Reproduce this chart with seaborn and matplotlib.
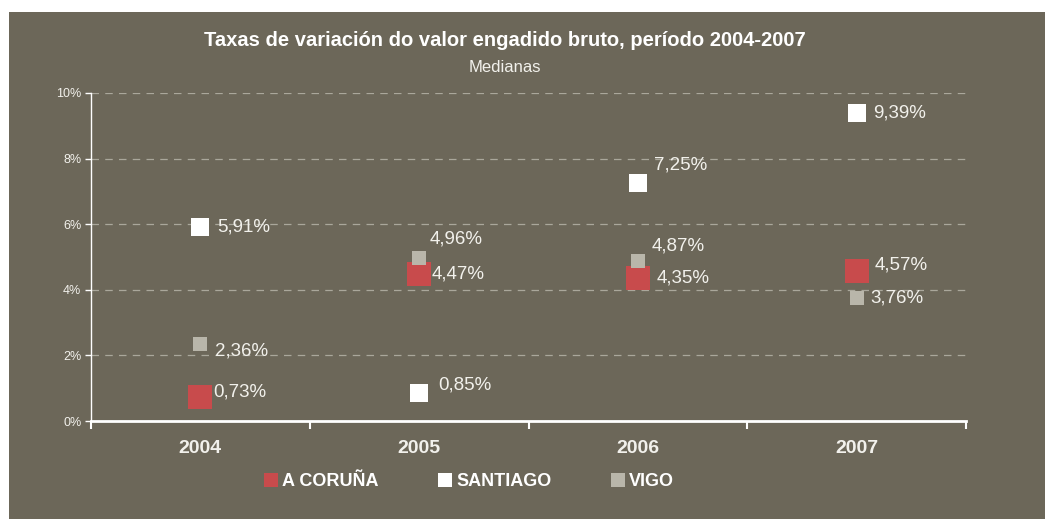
import numpy as np
import pandas as pd
import seaborn as sns
import matplotlib.pyplot as plt
from matplotlib.patches import Rectangle
from matplotlib.lines import Line2D
from matplotlib.ticker import FixedLocator

# datos
anos = ['2004', '2005', '2006', '2007']
cidades = ['A CORUÑA', 'SANTIAGO', 'VIGO']
coruna = [0.73, 4.47, 4.35, 4.57]
santiago = [5.91, 0.85, 7.25, 9.39]
vigo = [2.36, 4.96, 4.87, 3.76]

# desprazamento das etiquetas (px) por serie e ano
off_coruna = [(13, 5), (12, 0), (19, 0), (18, 6)]
off_santiago = [(17, 0), (19, 8), (16, 18), (17, 0)]
off_vigo = [(15, -7), (10, 19), (14, 15), (14, 0)]

cores = {'A CORUÑA': '#c84b4c', 'SANTIAGO': '#ffffff', 'VIGO': '#b9b6aa'}
tamanos = {'A CORUÑA': 300, 'SANTIAGO': 165, 'VIGO': 100}
fondo = '#6c6759'
texto = '#f2f1ec'

df = pd.DataFrame({
    'ano': anos * 3,
    'cidade': np.repeat(cidades, 4),
    'valor': coruna + santiago + vigo,
})

plt.rcParams['font.family'] = ['Liberation Sans', 'DejaVu Sans']

fig = plt.figure(figsize=(10.45, 5.19), dpi=100, facecolor='white')
fig.patches.append(Rectangle((9 / 1045, 0), 1, 1 - 12 / 519, transform=fig.transFigure,
                             facecolor=fondo, edgecolor='none', zorder=-10))
ax = fig.add_axes([91 / 1045, 1 - 421 / 519, 875 / 1045, 328 / 519])
ax.set_facecolor(fondo)

sns.scatterplot(data=df, x='ano', y='valor', hue='cidade', size='cidade', sizes=tamanos,
                palette=cores, marker='s', linewidth=0, legend=False, ax=ax, zorder=3)

offs = {'A CORUÑA': off_coruna, 'SANTIAGO': off_santiago, 'VIGO': off_vigo}
vals = {'A CORUÑA': coruna, 'SANTIAGO': santiago, 'VIGO': vigo}
for c in cidades:
    for i, v in enumerate(vals[c]):
        dx, dy = offs[c][i]
        ax.annotate(f'{v:.2f}%'.replace('.', ','), (i, v), xytext=(dx * 0.72, dy * 0.72),
                    textcoords='offset points', ha='left', va='center',
                    fontsize=13.5, color=texto, zorder=4)

ax.set_xlim(-0.5, 3.5)
ax.set_ylim(0, 10)
ax.set_yticks(np.arange(0, 11, 2))
ax.set_yticklabels([f'{t}%' for t in range(0, 11, 2)], fontsize=9, color=texto)
ax.yaxis.grid(True, color='#aaa79b', linestyle=(0, (6, 5)), linewidth=0.9)
ax.set_axisbelow(True)

ax.set_xticks(range(4))
ax.set_xticklabels(anos, fontsize=14, fontweight='bold', color=texto)
ax.tick_params(axis='x', which='major', length=0, pad=14)
ax.xaxis.set_minor_locator(FixedLocator([-0.5, 0.5, 1.5, 2.5, 3.5]))
ax.tick_params(axis='x', which='minor', length=6, width=1.5, color='white', direction='out')
ax.tick_params(axis='y', length=4, width=1, color='white', pad=3)
ax.set_xlabel('')
ax.set_ylabel('')

for s in ['top', 'right']:
    ax.spines[s].set_visible(False)
ax.spines['left'].set_color('white')
ax.spines['left'].set_linewidth(1)
ax.spines['bottom'].set_color('white')
ax.spines['bottom'].set_linewidth(2)

fig.text(505 / 1045, 1 - 40 / 519, 'Taxas de variación do valor engadido bruto, período 2004-2007',
         ha='center', va='center', fontsize=14.5, fontweight='bold', color='white')
fig.text(505 / 1045, 1 - 67 / 519, 'Medianas', ha='center', va='center', fontsize=12,
         color=texto)

handles = [Line2D([], [], marker='s', linestyle='none', markersize=10, markeredgewidth=0,
                  markerfacecolor=cores[c], label=c) for c in cidades]
leg = fig.legend(handles=handles, loc='center', bbox_to_anchor=(470 / 1045, 1 - 482 / 519),
                 ncol=3, frameon=False, handlelength=0.6, handletextpad=0.3, columnspacing=3.4,
                 prop={'weight': 'bold', 'size': 13})
for t in leg.get_texts():
    t.set_color('white')

fig.savefig('out.png', dpi=100, facecolor='white')
